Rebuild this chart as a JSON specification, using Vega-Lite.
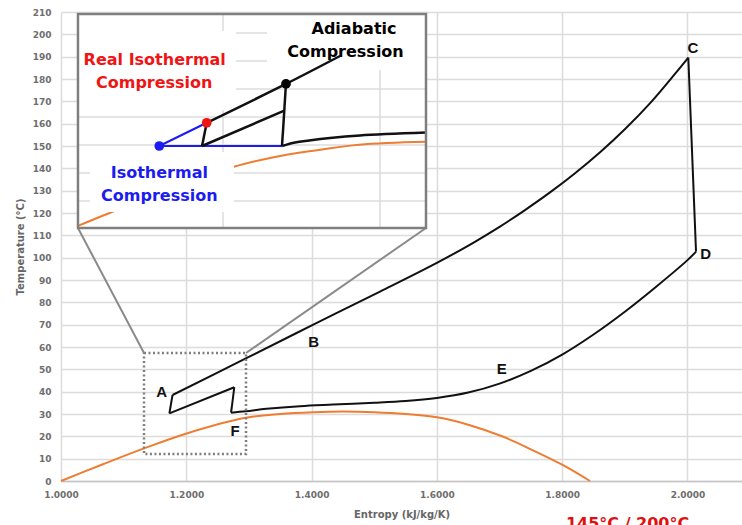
{
  "$schema": "https://vega.github.io/schema/vega-lite/v6.json",
  "width": 681,
  "height": 469,
  "autosize": {"type": "none"},
  "padding": {"left": 61, "top": 12, "right": 0, "bottom": 44},
  "background": "white",
  "config": {"view": {"stroke": null}},
  "datasets": {
    "dome": [
      {"x": 1.0, "y": 0}, {"x": 1.066, "y": 7.4}, {"x": 1.1325, "y": 14.6}, {"x": 1.2006, "y": 21.3},
      {"x": 1.2948, "y": 28.3}, {"x": 1.35, "y": 30.0}, {"x": 1.4027, "y": 30.8}, {"x": 1.45, "y": 31.1},
      {"x": 1.5, "y": 30.8}, {"x": 1.55, "y": 30.0}, {"x": 1.6, "y": 28.5}, {"x": 1.65, "y": 25.2},
      {"x": 1.706, "y": 19.8}, {"x": 1.75, "y": 14.2}, {"x": 1.8, "y": 7.3}, {"x": 1.8444, "y": 0}
    ],
    "cycle": [
      {"seg": "A", "x": 1.173, "y": 30.3}, {"seg": "A", "x": 1.178, "y": 38.5},
      {"seg": "B", "x": 1.178, "y": 38.5}, {"seg": "B", "x": 1.295, "y": 54.9}, {"seg": "B", "x": 1.4027, "y": 70.0},
      {"seg": "B", "x": 1.5092, "y": 84.8}, {"seg": "B", "x": 1.5783, "y": 94.5}, {"seg": "B", "x": 1.62, "y": 100.7},
      {"seg": "B", "x": 1.66, "y": 107.0}, {"seg": "B", "x": 1.7, "y": 113.8}, {"seg": "B", "x": 1.74, "y": 121.2},
      {"seg": "B", "x": 1.78, "y": 129.1}, {"seg": "B", "x": 1.82, "y": 137.7}, {"seg": "B", "x": 1.86, "y": 147.1},
      {"seg": "B", "x": 1.9, "y": 157.5}, {"seg": "B", "x": 1.94, "y": 169.1}, {"seg": "B", "x": 1.98, "y": 182.3},
      {"seg": "B", "x": 2.0013, "y": 189.6},
      {"seg": "CD", "x": 2.0013, "y": 189.6}, {"seg": "CD", "x": 2.0136, "y": 102.7},
      {"seg": "E", "x": 1.2715, "y": 30.6}, {"seg": "E", "x": 1.295, "y": 31.2}, {"seg": "E", "x": 1.328, "y": 32.3},
      {"seg": "E", "x": 1.3815, "y": 33.5}, {"seg": "E", "x": 1.434, "y": 34.2}, {"seg": "E", "x": 1.5, "y": 35.0},
      {"seg": "E", "x": 1.55, "y": 35.8}, {"seg": "E", "x": 1.6, "y": 37.2}, {"seg": "E", "x": 1.65, "y": 39.6},
      {"seg": "E", "x": 1.7, "y": 43.6}, {"seg": "E", "x": 1.75, "y": 49.3}, {"seg": "E", "x": 1.8, "y": 56.6},
      {"seg": "E", "x": 1.85, "y": 65.6}, {"seg": "E", "x": 1.9, "y": 75.8}, {"seg": "E", "x": 1.95, "y": 87.0},
      {"seg": "E", "x": 2.0, "y": 98.9}, {"seg": "E", "x": 2.0136, "y": 102.7},
      {"seg": "S1", "x": 1.173, "y": 30.3}, {"seg": "S1", "x": 1.2766, "y": 42.0},
      {"seg": "S2", "x": 1.2715, "y": 30.6}, {"seg": "S2", "x": 1.2766, "y": 42.0}
    ],
    "zoombox": [{"x": 1.1325, "x2": 1.2953, "y": 12.1, "y2": 57.3}],
    "connectors": [
      {"x": 1.0271, "y": 113.3, "x2": 1.1325, "y2": 57.3},
      {"x": 1.5826, "y": 113.3, "x2": 1.2953, "y2": 57.3}
    ],
    "inset": [{"x": 1.0271, "x2": 1.5826, "y": 113.3, "y2": 209.1}],
    "igrid": [
      {"x": 1.2586, "x2": 1.2586, "y": 113.3, "y2": 209.1},
      {"x": 1.5092, "x2": 1.5092, "y": 113.3, "y2": 209.1},
      {"x": 1.0271, "x2": 1.5826, "y": 200.6, "y2": 200.6},
      {"x": 1.0271, "x2": 1.5826, "y": 188.1, "y2": 188.1},
      {"x": 1.0271, "x2": 1.5826, "y": 175.5, "y2": 175.5},
      {"x": 1.0271, "x2": 1.5826, "y": 163.0, "y2": 163.0},
      {"x": 1.0271, "x2": 1.5826, "y": 150.4, "y2": 150.4},
      {"x": 1.0271, "x2": 1.5826, "y": 137.9, "y2": 137.9},
      {"x": 1.0271, "x2": 1.5826, "y": 125.4, "y2": 125.4}
    ],
    "iorange": [
      {"x": 1.0271, "y": 114.2}, {"x": 1.0766, "y": 119.9}, {"x": 1.1772, "y": 130.3}, {"x": 1.2761, "y": 140.7},
      {"x": 1.3336, "y": 144.6}, {"x": 1.3959, "y": 147.6}, {"x": 1.4758, "y": 150.6}, {"x": 1.5826, "y": 151.9}
    ],
    "iboxes": [
      {"x": 1.0271, "x2": 1.2793, "y": 166.1, "y2": 201.5},
      {"x": 1.3288, "x2": 1.5826, "y": 184.0, "y2": 208.7},
      {"x": 1.0463, "x2": 1.2761, "y": 120.4, "y2": 147.3}
    ],
    "iblue": [
      {"seg": 1, "x": 1.1569, "y": 150.0}, {"seg": 1, "x": 1.2326, "y": 160.4},
      {"seg": 2, "x": 1.1569, "y": 150.0}, {"seg": 2, "x": 1.3528, "y": 150.0}
    ],
    "iblack": [
      {"seg": "a", "x": 1.2251, "y": 150.0}, {"seg": "a", "x": 1.2326, "y": 160.4},
      {"seg": "b", "x": 1.2326, "y": 160.4}, {"seg": "b", "x": 1.3591, "y": 177.8}, {"seg": "b", "x": 1.4453, "y": 190.3},
      {"seg": "c", "x": 1.2251, "y": 150.0}, {"seg": "c", "x": 1.3564, "y": 165.8},
      {"seg": "d", "x": 1.3528, "y": 150.0}, {"seg": "d", "x": 1.3591, "y": 177.8},
      {"seg": "e", "x": 1.3528, "y": 150.0}, {"seg": "e", "x": 1.3735, "y": 151.6}, {"seg": "e", "x": 1.3959, "y": 152.5},
      {"seg": "e", "x": 1.4294, "y": 153.6}, {"seg": "e", "x": 1.4773, "y": 154.7}, {"seg": "e", "x": 1.5826, "y": 156.0}
    ],
    "dots": [
      {"kind": "isothermal", "x": 1.1569, "y": 150.0},
      {"kind": "real", "x": 1.2326, "y": 160.4},
      {"kind": "adiabatic", "x": 1.3591, "y": 177.8}
    ],
    "ilabels": [
      {"kind": "adiabatic", "label": "Adiabatic", "x": 1.4677, "y": 202.4},
      {"kind": "adiabatic", "label": "Compression", "x": 1.4541, "y": 192.1},
      {"kind": "real", "label": "Real Isothermal", "x": 1.1496, "y": 188.5},
      {"kind": "real", "label": "Compression", "x": 1.1488, "y": 178.2},
      {"kind": "isothermal", "label": "Isothermal", "x": 1.1569, "y": 137.9},
      {"kind": "isothermal", "label": "Compression", "x": 1.1569, "y": 127.6}
    ],
    "letters": [
      {"label": "A", "x": 1.1607, "y": 40.0},
      {"label": "B", "x": 1.4035, "y": 62.3},
      {"label": "C", "x": 2.0088, "y": 194.1},
      {"label": "D", "x": 2.0292, "y": 101.6},
      {"label": "E", "x": 1.7034, "y": 50.2},
      {"label": "F", "x": 1.2777, "y": 22.3}
    ],
    "note": [{"label": "145°C / 200°C", "x": 1.9043, "y": -21.6}]
  },
  "encoding": {
    "x": {
      "field": "x", "type": "quantitative",
      "scale": {"domain": [1, 2.087], "nice": false, "zero": false},
      "axis": {
        "values": [1, 1.2, 1.4, 1.6, 1.8, 2.0], "format": ".4f", "title": "Entropy (kJ/kg/K)",
        "ticks": false, "labelPadding": 9, "labelFlush": false,
        "domainColor": "#c4c4c4", "domainWidth": 1.5,
        "gridColor": "#dcdcdc", "gridWidth": 1.5,
        "labelFont": "DejaVu Sans", "labelFontWeight": "bold", "labelFontSize": 9, "labelColor": "#6e6e6e",
        "titleFont": "DejaVu Sans", "titleFontWeight": "bold", "titleFontSize": 10, "titleColor": "#666666", "titlePadding": 10
      }
    },
    "y": {
      "field": "y", "type": "quantitative",
      "scale": {"domain": [0, 210], "nice": false, "zero": false},
      "axis": {
        "values": [0, 10, 20, 30, 40, 50, 60, 70, 80, 90, 100, 110, 120, 130, 140, 150, 160, 170, 180, 190, 200, 210],
        "title": "Temperature (°C)", "ticks": false, "domain": false, "labelPadding": 10,
        "gridColor": "#dcdcdc", "gridWidth": 1.5,
        "labelFont": "DejaVu Sans", "labelFontWeight": "bold", "labelFontSize": 9, "labelColor": "#6e6e6e",
        "titleFont": "DejaVu Sans", "titleFontWeight": "bold", "titleFontSize": 10, "titleColor": "#666666", "titlePadding": 7
      }
    }
  },
  "layer": [
    {"data": {"name": "dome"}, "mark": {"type": "line", "color": "#ed7d31", "strokeWidth": 2, "interpolate": "catmull-rom"}},
    {"data": {"name": "cycle"}, "mark": {"type": "line", "color": "#111111", "strokeWidth": 2, "interpolate": "catmull-rom"},
     "encoding": {"detail": {"field": "seg"}}},
    {"data": {"name": "zoombox"}, "mark": {"type": "rect", "fillOpacity": 0, "stroke": "#7f7f7f", "strokeWidth": 2.5, "strokeDash": [2, 2.5]},
     "encoding": {"x2": {"field": "x2"}, "y2": {"field": "y2"}}},
    {"data": {"name": "connectors"}, "mark": {"type": "rule", "color": "#8a8a8a", "strokeWidth": 2},
     "encoding": {"x2": {"field": "x2"}, "y2": {"field": "y2"}}},
    {"data": {"name": "inset"}, "mark": {"type": "rect", "fill": "white", "strokeWidth": 0},
     "encoding": {"x2": {"field": "x2"}, "y2": {"field": "y2"}}},
    {"data": {"name": "igrid"}, "mark": {"type": "rule", "color": "#dcdcdc", "strokeWidth": 1.5},
     "encoding": {"x2": {"field": "x2"}, "y2": {"field": "y2"}}},
    {"data": {"name": "iorange"}, "mark": {"type": "line", "color": "#ed7d31", "strokeWidth": 2, "interpolate": "catmull-rom"}},
    {"data": {"name": "iboxes"}, "mark": {"type": "rect", "fill": "white", "strokeWidth": 0},
     "encoding": {"x2": {"field": "x2"}, "y2": {"field": "y2"}}},
    {"data": {"name": "iblue"}, "mark": {"type": "line", "color": "#1c1cf0", "strokeWidth": 2},
     "encoding": {"detail": {"field": "seg"}}},
    {"data": {"name": "iblack"}, "mark": {"type": "line", "color": "#111111", "strokeWidth": 2.5, "interpolate": "catmull-rom"},
     "encoding": {"detail": {"field": "seg"}}},
    {"data": {"name": "dots"}, "mark": {"type": "point", "filled": true, "opacity": 1, "size": 95},
     "encoding": {"color": {"field": "kind", "type": "nominal", "legend": null,
       "scale": {"domain": ["isothermal", "real", "adiabatic"], "range": ["#1c1cf0", "#f01414", "#000000"]}}}},
    {"data": {"name": "inset"}, "mark": {"type": "rect", "fillOpacity": 0, "stroke": "#7f7f7f", "strokeWidth": 2.5},
     "encoding": {"x2": {"field": "x2"}, "y2": {"field": "y2"}}},
    {"data": {"name": "ilabels"}, "mark": {"type": "text", "font": "DejaVu Sans", "fontWeight": "bold", "fontSize": 16, "align": "center", "baseline": "middle"},
     "encoding": {"text": {"field": "label"}, "color": {"field": "kind", "type": "nominal", "legend": null,
       "scale": {"domain": ["isothermal", "real", "adiabatic"], "range": ["#1c1cf0", "#f01414", "#000000"]}}}},
    {"data": {"name": "letters"}, "mark": {"type": "text", "font": "Liberation Sans", "fontWeight": "bold", "fontSize": 15, "align": "center", "baseline": "middle", "color": "#111111"},
     "encoding": {"text": {"field": "label"}}},
    {"data": {"name": "note"}, "mark": {"type": "text", "font": "DejaVu Sans", "fontWeight": "bold", "fontSize": 16, "align": "center", "baseline": "alphabetic", "color": "#e01010"},
     "encoding": {"text": {"field": "label"}}}
  ]
}
